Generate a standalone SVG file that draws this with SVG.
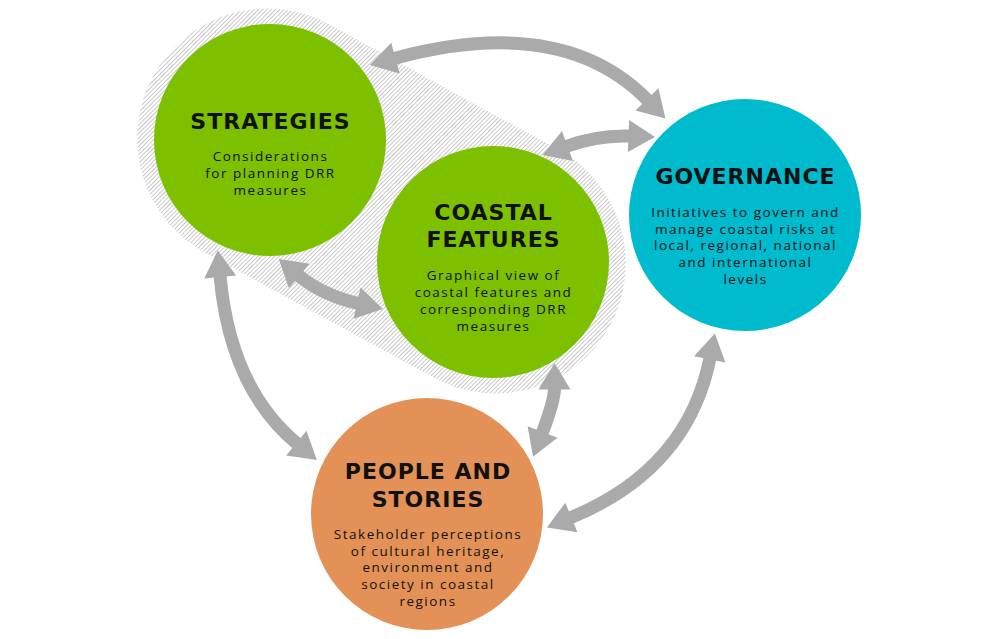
<svg xmlns="http://www.w3.org/2000/svg" width="1000" height="639" viewBox="0 0 1000 639">
<defs>
<pattern id="hatch" width="3" height="3" patternUnits="userSpaceOnUse" patternTransform="rotate(45)">
<rect width="3" height="3" fill="#ffffff"/>
<line x1="0.5" y1="0" x2="0.5" y2="3" stroke="#c2c2c2" stroke-width="0.9"/>
</pattern>
<marker id="head" markerUnits="userSpaceOnUse" markerWidth="30" markerHeight="36" viewBox="-2 -18 30 36" refX="0" refY="0" orient="auto-start-reverse" overflow="visible">
<path d="M-1.5,-16 L25,0 L-1.5,16 Z" fill="#aaaaaa"/>
</marker>
<style>
.shaft{fill:none;stroke:#aaaaaa;stroke-width:13;marker-start:url(#head);marker-end:url(#head)}
.title{font-family:"DejaVu Sans","Liberation Sans",sans-serif;font-weight:700;font-size:22px;letter-spacing:1px;fill:#111111;text-anchor:middle}
.sub{font-family:"Open Sans","Liberation Sans",sans-serif;font-weight:400;font-size:13.5px;letter-spacing:1.5px;fill:#111111;text-anchor:middle}
</style>
</defs>
<rect width="1000" height="639" fill="#ffffff"/>
<path id="hatch-area" d="M332.4,26 L555.4,148 A130,130 0 1 1 430.6,376 L207.6,254 A130,130 0 1 1 332.4,26 Z" fill="url(#hatch)"/>
<g id="strategies">
<circle cx="270" cy="140" r="116" fill="#7dc000"/>
<text class="title" x="270.5" y="129">STRATEGIES</text>
<text class="sub" x="270.5" y="161">Considerations</text>
<text class="sub" x="270.5" y="178">for planning DRR</text>
<text class="sub" x="270.5" y="195">measures</text>
</g>
<g id="coastal-features">
<circle cx="493" cy="262" r="116" fill="#7dc000"/>
<text class="title" x="493.5" y="220">COASTAL</text>
<text class="title" x="493.5" y="247">FEATURES</text>
<text class="sub" x="493.5" y="280">Graphical view of</text>
<text class="sub" x="493.5" y="297">coastal features and</text>
<text class="sub" x="493.5" y="314">corresponding DRR</text>
<text class="sub" x="493.5" y="331">measures</text>
</g>
<g id="governance">
<circle cx="745" cy="215" r="116" fill="#00bacd"/>
<text class="title" x="745.5" y="184">GOVERNANCE</text>
<text class="sub" x="745.5" y="217">Initiatives to govern and</text>
<text class="sub" x="745.5" y="233.7">manage coastal risks at</text>
<text class="sub" x="745.5" y="250.4">local, regional, national</text>
<text class="sub" x="745.5" y="267.1">and international</text>
<text class="sub" x="745.5" y="283.8">levels</text>
</g>
<g id="people-and-stories">
<circle cx="427" cy="514" r="116" fill="#e39156"/>
<text class="title" x="428" y="479">PEOPLE AND</text>
<text class="title" x="428" y="506.5">STORIES</text>
<text class="sub" x="428" y="539">Stakeholder perceptions</text>
<text class="sub" x="428" y="555.7">of cultural heritage,</text>
<text class="sub" x="428" y="572.4">environment and</text>
<text class="sub" x="428" y="589.1">society in coastal</text>
<text class="sub" x="428" y="605.8">regions</text>
</g>
<g id="connectors">
<path class="shaft" d="M394,58.5 Q562.7,12.8 648,100.5"/>
<path class="shaft" d="M566,146.5 Q598,134.75 630,136"/>
<path class="shaft" d="M298,275 Q322.5,295.4 358.5,303.5"/>
<path class="shaft" d="M220,275.5 Q230,388.3 297.5,444"/>
<path class="shaft" d="M554.5,388 Q554.5,400.9 542,433.5"/>
<path class="shaft" d="M710,358 Q687.7,469.7 570,518"/>
</g>
</svg>
